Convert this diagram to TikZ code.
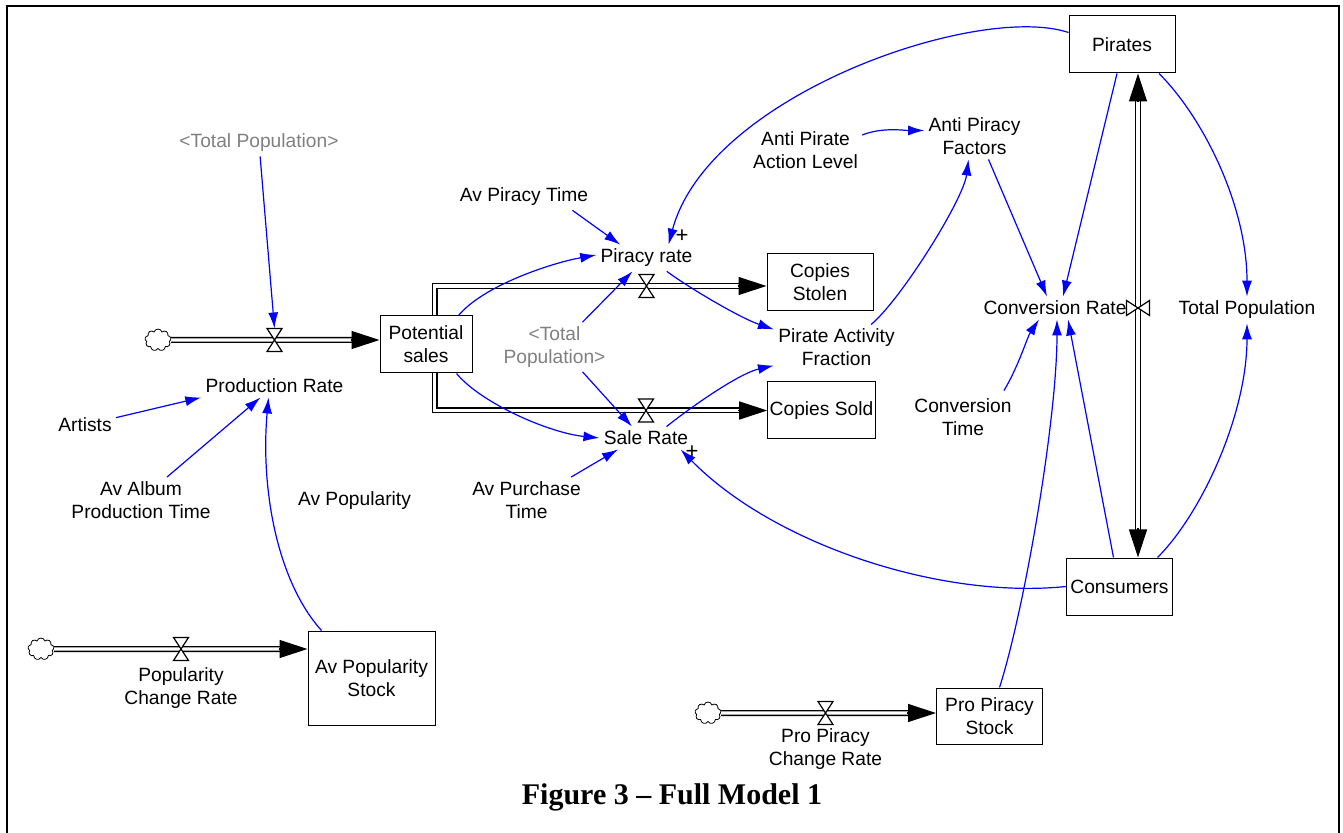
\documentclass[tikz,border=0pt]{standalone}
\usepackage{fontspec}
\setmainfont{Liberation Sans}
\newfontfamily\capfont{Liberation Serif}
\usetikzlibrary{arrows.meta,shapes.symbols}

\tikzset{
  stock/.style={draw, line width=0.5pt, minimum width=53pt, minimum height=28.5pt, inner sep=1pt, align=center},
  var/.style={inner sep=2pt, align=center},
  ghost/.style={var, text=gray},
  sign/.style={inner sep=0pt, font=\fontsize{11}{12}\selectfont},
  link/.style={blue, line width=0.6pt, -{Latex[length=8pt,width=5pt]}},
  pipe/.style={draw, double, double distance=1.6pt, line width=0.7pt},
  flowhead/.style={-{Triangle[length=14pt,width=9pt]}, line width=0.6pt},
  source/.style={cloud, cloud puffs=9, draw, line width=0.4pt, minimum width=13pt, minimum height=11pt, inner sep=0pt, aspect=1.2},
  valve/.pic={
    \draw[fill=white, line width=0.6pt] (-7.5,-11.5) -- (7.5,-11.5) -- (-7.5,11.5) -- (7.5,11.5) -- cycle;
    \coordinate (-top) at (0,-11.5);
  }
}

\begin{document}
\begin{tikzpicture}[x=0.5pt,y=-0.5pt,font=\fontsize{9.6}{11.5}\selectfont]
  \useasboundingbox (0,0) rectangle (1343,833);
  \draw[line width=1pt] (7,845) -- (7,6) -- (1339,6) -- (1339,845);

  \node[stock] (pir) at (1122,44.5) {Pirates};
  \node[stock] (con) at (1119.5,586.5) {Consumers};
  \node[stock, minimum width=46pt] (ps) at (426,344.5) {Potential\\sales};
  \node[stock] (cs) at (820,282.5) {Copies\\Stolen};
  \node[stock] (cd) at (821.5,410.5) {Copies Sold};
  \node[stock, minimum width=63.5pt, minimum height=47pt] (aps) at (371.5,678) {Av Popularity\\Stock};
  \node[stock, minimum height=28pt] (pps) at (989.5,716) {Pro Piracy\\Stock};

  \node[ghost] (tpop1) at (259,143) {<Total Population>};
  \node[var] (prod) at (274.5,386) {Production Rate};
  \node[var] (artists) at (85,425) {Artists};
  \node[var] (album) at (141,500) {Av Album\\Production Time};
  \node[var] (avpop) at (354.5,501) {Av Popularity};
  \node[var] (pirtime) at (524,197) {Av Piracy Time};
  \node[var] (prate) at (646.5,258) {Piracy rate};
  \node[ghost] (tpop2) at (554.5,347) {<Total\\Population>};
  \node[var] (srate) at (646,438) {Sale Rate};
  \node[var] (purtime) at (526.5,500) {Av Purchase\\Time};
  \node[var] (paf) at (836.5,347.5) {Pirate Activity\\Fraction};
  \node[var] (apal) at (805.5,150) {Anti Pirate\\Action Level};
  \node[var] (apf) at (974.5,136.5) {Anti Piracy\\Factors};
  \node[var] (crate) at (1055,308) {Conversion Rate};
  \node[var] (totpop) at (1247,310) {Total Population};
  \node[var] (ctime) at (963,417.5) {Conversion\\Time};
  \node[var] (popcr) at (181,688.5) {Popularity\\Change Rate};
  \node[var] (ppcr) at (825.5,749.5) {Pro Piracy\\Change Rate};
  \node[sign] (plus1) at (682,236) {+};
  \node[sign] (plus2) at (692,452) {+};

  \node[source] (c1) at (158,340) {};
  \node[source] (c2) at (41,649) {};
  \node[source] (c3) at (708,713) {};
  \coordinate (psin) at (ps.west |- c1);
  \coordinate (apsin) at (aps.west |- c2);
  \coordinate (ppsin) at (pps.west |- c3);
  \coordinate (csin) at ([yshift=-1.75pt]cs.west);
  \coordinate (cdin) at (cd.west);
  \coordinate (pirin) at ([xshift=8pt]pir.south);
  \coordinate (conin) at ([xshift=9.25pt]con.north);

  \draw[pipe, shorten >=8pt] (c1) -- (psin);
  \draw[pipe, shorten >=8pt] (c2) -- (apsin);
  \draw[pipe, shorten >=8pt] (c3) -- (ppsin);
  \draw[pipe, shorten >=8pt] ([xshift=4.25pt]ps.north) |- (csin);
  \draw[pipe, shorten >=8pt] ([xshift=4.25pt]ps.south) |- (cdin);
  \draw[pipe, shorten <=8pt, shorten >=8pt] (conin) -- (pirin);
  \draw[flowhead] ([xshift=-14.5pt]psin) -- (psin);
  \draw[flowhead] ([xshift=-14.5pt]apsin) -- (apsin);
  \draw[flowhead] ([xshift=-14.5pt]ppsin) -- (ppsin);
  \draw[flowhead] ([xshift=-14.5pt]csin) -- (csin);
  \draw[flowhead] ([xshift=-14.5pt]cdin) -- (cdin);
  \draw[flowhead] ([yshift=-14.5pt]pirin) -- (pirin);
  \draw[flowhead] ([yshift=14.5pt]conin) -- (conin);
  \pic (v1) at (prod |- c1) {valve};
  \pic (v2) at (prate |- csin) {valve};
  \pic (v3) at (srate |- cdin) {valve};
  \pic[rotate=90] (v4) at (pirin |- crate) {valve};
  \pic (v5) at (popcr |- c2) {valve};
  \pic (v6) at (ppcr |- c3) {valve};

  \draw[link] (tpop1) -- (v1-top);
  \draw[link] (artists) -- (prod.south west);
  \draw[link] ([xshift=13pt]album.north) -- ([xshift=-7pt]prod.south);
  \draw[link] ([xshift=-25pt]aps.north) .. controls +(-45,-50) and +(-8,90) .. ([xshift=-3pt]prod.south);
  \draw[link] ([xshift=-10pt]pirtime.south east) -- ([xshift=12pt]prate.north west);
  \draw[link] ([xshift=-7pt]ps.north east) .. controls +(25,-30) and +(-45,8) .. ([yshift=1.5pt]prate.west);
  \draw[link] ([xshift=14pt]tpop2.north) -- ([xshift=-7pt]prate.south);
  \draw[link] ([yshift=6pt]pir.west) .. controls +(-90,-30) and +(40,-150) .. ([xshift=11pt]prate.north);
  \draw[link] ([xshift=-15pt]prate.south east) .. controls +(20,15) and +(-35,-12) .. ([yshift=9pt]paf.west);
  \draw[link] ([xshift=-13pt]srate.north east) .. controls +(25,-20) and +(-35,8) .. ([yshift=-9pt]paf.west);
  \draw[link] ([xshift=-8pt]ps.south east) .. controls +(25,30) and +(-50,-5) .. (srate.west);
  \draw[link] ([xshift=14pt]tpop2.south) -- ([xshift=-7pt]srate.north);
  \draw[link] ([xshift=-7pt]purtime.north east) -- ([xshift=-14pt]srate.south);
  \draw[link] (con.west) .. controls +(-127,13) and +(92,94) .. ([xshift=-6pt]srate.south east);
  \draw[link] ([xshift=-14pt]paf.north east) .. controls +(30,-25) and +(-5,40) .. ([xshift=-3pt]apf.south);
  \draw[link] ([yshift=7.5pt]apal.east) .. controls +(20,-8) and +(-20,0) .. ([yshift=3pt]apf.west);
  \draw[link] ([xshift=7pt]apf.south) -- ([xshift=-4pt]crate.north);
  \draw[link] ([xshift=-2.5pt]pir.south) -- ([xshift=4pt]crate.north);
  \draw[link] ([xshift=18.5pt]pir.south) .. controls +(45,45) and +(0,-90) .. (totpop.north);
  \draw[link] ([xshift=19pt]con.north) .. controls +(45,-45) and +(0,90) .. (totpop.south);
  \draw[link] ([xshift=-3pt]con.north) -- ([xshift=6.5pt]crate.south);
  \draw[link] ([xshift=-6pt, yshift=2pt]ctime.north east) .. controls +(15,-25) and +(-12,18) .. ([xshift=-8pt]crate.south);
  \draw[link] ([xshift=5pt]pps.north) .. controls +(25,-78) and +(0,100) .. ([xshift=1pt]crate.south);

  \node (cap) at (672,797) {\capfont\bfseries\fontsize{15}{18}\selectfont Figure 3 – Full Model 1};
\end{tikzpicture}
\end{document}
